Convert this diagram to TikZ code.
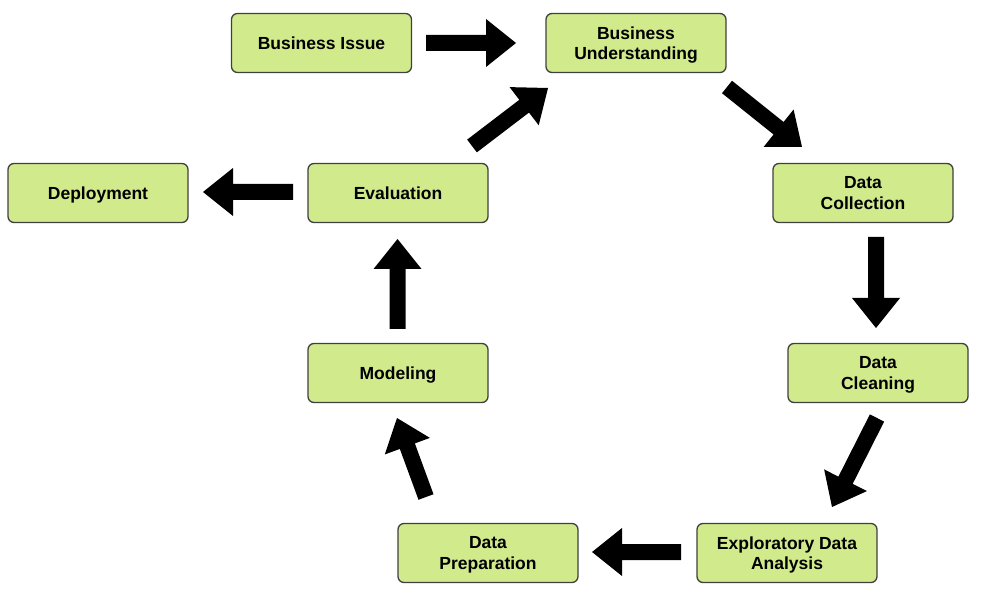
\documentclass[tikz,border=0pt]{standalone}
\usepackage{fontspec}
\setmainfont{Liberation Sans}
\usetikzlibrary{calc}
\definecolor{boxfill}{HTML}{D0EA8C}
\definecolor{boxline}{HTML}{404040}
\newcommand\shaftw{8pt}
\newcommand\headw{24pt}
\newcommand\headlen{30pt}
\newcommand\blockarrow[3]{%
  \coordinate (#3h) at ($(#2)!\headlen!(#1)$);
  \fill[black] ($(#1)!\shaftw!90:(#2)$) -- ($(#3h)!\shaftw!90:(#2)$) -- ($(#3h)!\headw!90:(#2)$) -- (#2)
    -- ($(#3h)!\headw!-90:(#2)$) -- ($(#3h)!\shaftw!-90:(#2)$) -- ($(#1)!\shaftw!-90:(#2)$) -- cycle;}
\begin{document}
\begin{tikzpicture}[x=1pt,y=-1pt,
  stagebox/.style={draw=boxline, fill=boxfill, line width=1.3pt, rounded corners=6pt,
    minimum width=180pt, minimum height=59pt, align=center, inner sep=0pt,
    text depth=0pt, yshift=0pt,
    font=\fontsize{17.5}{20.5}\selectfont\bfseries}]
\useasboundingbox (0,0) rectangle (985,601);
\node[stagebox] (bi)  at (321.5,43) {Business Issue};
\node[stagebox] (bu)  at (636,43) {Business\\Understanding};
\node[stagebox] (dc)  at (863,193) {Data\\Collection};
\node[stagebox] (cl)  at (878,373) {Data\\Cleaning};
\node[stagebox] (eda) at (787,553) {Exploratory Data\\Analysis};
\node[stagebox] (dp)  at (488,553) {Data\\Preparation};
\node[stagebox] (mod) at (398,373) {Modeling};
\node[stagebox] (ev)  at (398,193) {Evaluation};
\node[stagebox] (dep) at (98,193) {Deployment};
% arrow end points
\coordinate (a1s) at (426,43);    \coordinate (a1e) at (516,43);
\coordinate (a2s) at (727,87);    \coordinate (a2e) at (802,147);
\coordinate (a3s) at (876,237);   \coordinate (a3e) at (876,328);
\coordinate (a4s) at (877,418);   \coordinate (a4e) at (832,507);
\coordinate (a5s) at (681,552);   \coordinate (a5e) at (592,552);
\coordinate (a6s) at (426,497);   \coordinate (a6e) at (397,418);
\coordinate (a7s) at (397.5,329); \coordinate (a7e) at (397.5,239);
\coordinate (a8s) at (472,146);   \coordinate (a8e) at (548,88);
\coordinate (a9s) at (293,192);   \coordinate (a9e) at (203,192);
\blockarrow{a1s}{a1e}{a1}
\blockarrow{a2s}{a2e}{a2}
\blockarrow{a3s}{a3e}{a3}
\blockarrow{a4s}{a4e}{a4}
\blockarrow{a5s}{a5e}{a5}
\blockarrow{a6s}{a6e}{a6}
\blockarrow{a7s}{a7e}{a7}
\blockarrow{a8s}{a8e}{a8}
\blockarrow{a9s}{a9e}{a9}
\end{tikzpicture}
\end{document}
